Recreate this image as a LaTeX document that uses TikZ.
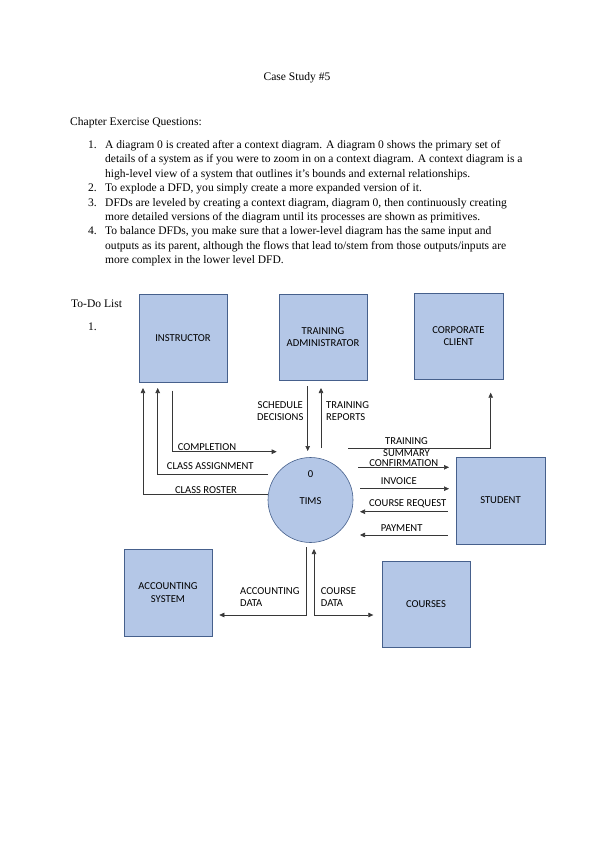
\documentclass[tikz,border=0pt]{standalone}
\usepackage{fontspec}
\setmainfont{Liberation Serif}
\newfontfamily\dfdfont{Carlito}
\usepackage{xcolor}
\usepackage{tikz}
\usetikzlibrary{arrows}
\usetikzlibrary{arrows.meta}
\usetikzlibrary{positioning}
\definecolor{boxfill}{RGB}{180,199,231}
\definecolor{boxline}{RGB}{70,96,140}
\definecolor{flowline}{RGB}{55,55,55}
\tikzset{
    tnode/.style = {align=center, inner sep=0pt, text centered},
    ent_node/.style = {tnode, rectangle, draw=boxline, fill=boxfill, line width=0.6pt, font=\dfdfont\fontsize{10.6}{12.4}\selectfont},
    proc_node/.style = {tnode, circle, draw=boxline, fill=boxfill, line width=0.6pt, minimum size=85pt},
    flow_lbl/.style = {tnode, font=\dfdfont\fontsize{10.6}{12.4}\selectfont},
    flow/.style = {draw=flowline, line width=0.6pt},
    doc_text/.style = {align=left, inner sep=0pt, font=\fontsize{11.55}{14.4}\selectfont}
}

\begin{document}
\begin{tikzpicture}
                    [x=1pt, y=-1pt, >={Triangle[length=5pt, width=4.5pt]}]
                    \useasboundingbox [fill=white] (0,0) rectangle (595,842);

                    % page text (multi-line nodes sit on their last line)
                    \node [doc_text, anchor=base] (title) at (297,80.8) {Case Study \#5};
                    \node [doc_text, anchor=base west] (chapter) at (70,125.8) {Chapter Exercise Questions:};
                    \node [doc_text, anchor=base west] (n1) at (88,148.5) {1.};
                    \node [doc_text, anchor=base west] (q1) at (105,177.3) {A diagram 0 is created after a context diagram. A diagram 0 shows the primary set of\\details of a system as if you were to zoom in on a context diagram. A context diagram is a\\high-level view of a system that outlines it’s bounds and external relationships.};
                    \node [doc_text, anchor=base west] (n2) at (88,191.7) {2.};
                    \node [doc_text, anchor=base west] (q2) at (105,191.7) {To explode a DFD, you simply create a more expanded version of it.};
                    \node [doc_text, anchor=base west] (n3) at (88,206.1) {3.};
                    \node [doc_text, anchor=base west] (q3) at (105,220.5) {DFDs are leveled by creating a context diagram, diagram 0, then continuously creating\\more detailed versions of the diagram until its processes are shown as primitives.};
                    \node [doc_text, anchor=base west] (n4) at (88,234.9) {4.};
                    \node [doc_text, anchor=base west] (q4) at (105,263.7) {To balance DFDs, you make sure that a lower-level diagram has the same input and\\outputs as its parent, although the flows that lead to/stem from those outputs/inputs are\\more complex in the lower level DFD.};
                    \node [doc_text, anchor=base west] (todo) at (71,307.8) {To-Do List};
                    \node [doc_text, anchor=base west] (t1) at (88,330.5) {1.};

                    % entities and process
                    \node [ent_node, minimum width=88pt, minimum height=88pt] (instructor) at (183,338) {INSTRUCTOR};
                    \node [ent_node, minimum width=88pt, minimum height=86pt] (admin) at (323,337) {TRAINING\\ADMINISTRATOR};
                    \node [ent_node, minimum width=89pt, minimum height=86pt] (corporate) at (458.5,336) {CORPORATE\\CLIENT};
                    \node [ent_node, minimum width=89pt, minimum height=87pt] (student) at (500.5,500.5) {STUDENT};
                    \node [ent_node, minimum width=88pt, minimum height=87pt] (accounting) at (168,592.5) {ACCOUNTING\\SYSTEM};
                    \node [ent_node, minimum width=88pt, minimum height=86pt] (courses) at (426,604) {COURSES};
                    \node [proc_node] (tims) at (310.5,500) {};
                    \node [flow_lbl] (tims_id) at (310.5,474.3) {0};
                    \node [flow_lbl] (tims_name) at (310.5,501) {TIMS};

                    % free ends of the flows
                    \coordinate (roster_end) at (143,388);
                    \coordinate (assign_start) at (268,474.3);
                    \coordinate (assign_end) at (157.7,388);
                    \coordinate (compl_start) at (172.3,390.7);
                    \coordinate (compl_end) at (276.7,451.7);
                    \coordinate (sched_start) at (307.7,386);
                    \coordinate (sched_end) at (307.7,451);
                    \coordinate (rep_start) at (321,448);
                    \coordinate (rep_end) at (321,388);
                    \coordinate (summ_start) at (348.3,448.3);
                    \coordinate (summ_end) at (490.7,392.7);
                    \coordinate (conf_start) at (358.3,467.3);
                    \coordinate (conf_end) at (449,467.3);
                    \coordinate (inv_start) at (360,488.7);
                    \coordinate (inv_end) at (449,488.7);
                    \coordinate (req_start) at (447.7,511.7);
                    \coordinate (req_end) at (360,511.7);
                    \coordinate (pay_start) at (447.7,535);
                    \coordinate (pay_end) at (360,535);
                    \coordinate (acc_start) at (306.7,547);
                    \coordinate (acc_end) at (219.3,615);
                    \coordinate (crs_top) at (314,549);
                    \coordinate (crs_end) at (373.3,615);

                    % flows
                    \draw [flow, ->] (tims.173) -| (roster_end);
                    \draw [flow, ->] (assign_start) -| (assign_end);
                    \draw [flow, ->] (compl_start) |- (compl_end);
                    \draw [flow, ->] (sched_start) -- (sched_end);
                    \draw [flow, ->] (rep_start) -- (rep_end);
                    \draw [flow, ->] (summ_start) -| (summ_end);
                    \draw [flow, ->] (conf_start) -- (conf_end);
                    \draw [flow, ->] (inv_start) -- (inv_end);
                    \draw [flow, ->] (req_start) -- (req_end);
                    \draw [flow, ->] (pay_start) -- (pay_end);
                    \draw [flow, ->] (acc_start) |- (acc_end);
                    \draw [flow, <->] (crs_top) |- (crs_end);

                    % flow labels
                    \node [flow_lbl] (l_roster) at (206,490.3) {CLASS ROSTER};
                    \node [flow_lbl] (l_assign) at (210.3,466.3) {CLASS ASSIGNMENT};
                    \node [flow_lbl] (l_compl) at (207,447.5) {COMPLETION};
                    \node [flow_lbl] (l_sched) at (280.3,410.8) {SCHEDULE\\DECISIONS};
                    \node [flow_lbl, anchor=west, align=left] (l_rep) at (326,410.8) {TRAINING\\REPORTS};
                    \node [flow_lbl] (l_summ) at (406.5,447.2) {TRAINING\\SUMMARY};
                    \node [flow_lbl] (l_conf) at (403.8,463.3) {CONFIRMATION};
                    \node [flow_lbl] (l_inv) at (398.8,480.7) {INVOICE};
                    \node [flow_lbl] (l_req) at (407.7,504) {COURSE REQUEST};
                    \node [flow_lbl] (l_pay) at (401.7,528.3) {PAYMENT};
                    \node [flow_lbl, anchor=west, align=left] (l_acc) at (240,597.2) {ACCOUNTING\\DATA};
                    \node [flow_lbl, anchor=west, align=left] (l_crs) at (320.7,597.2) {COURSE\\DATA};
                \end{tikzpicture}
\end{document}
